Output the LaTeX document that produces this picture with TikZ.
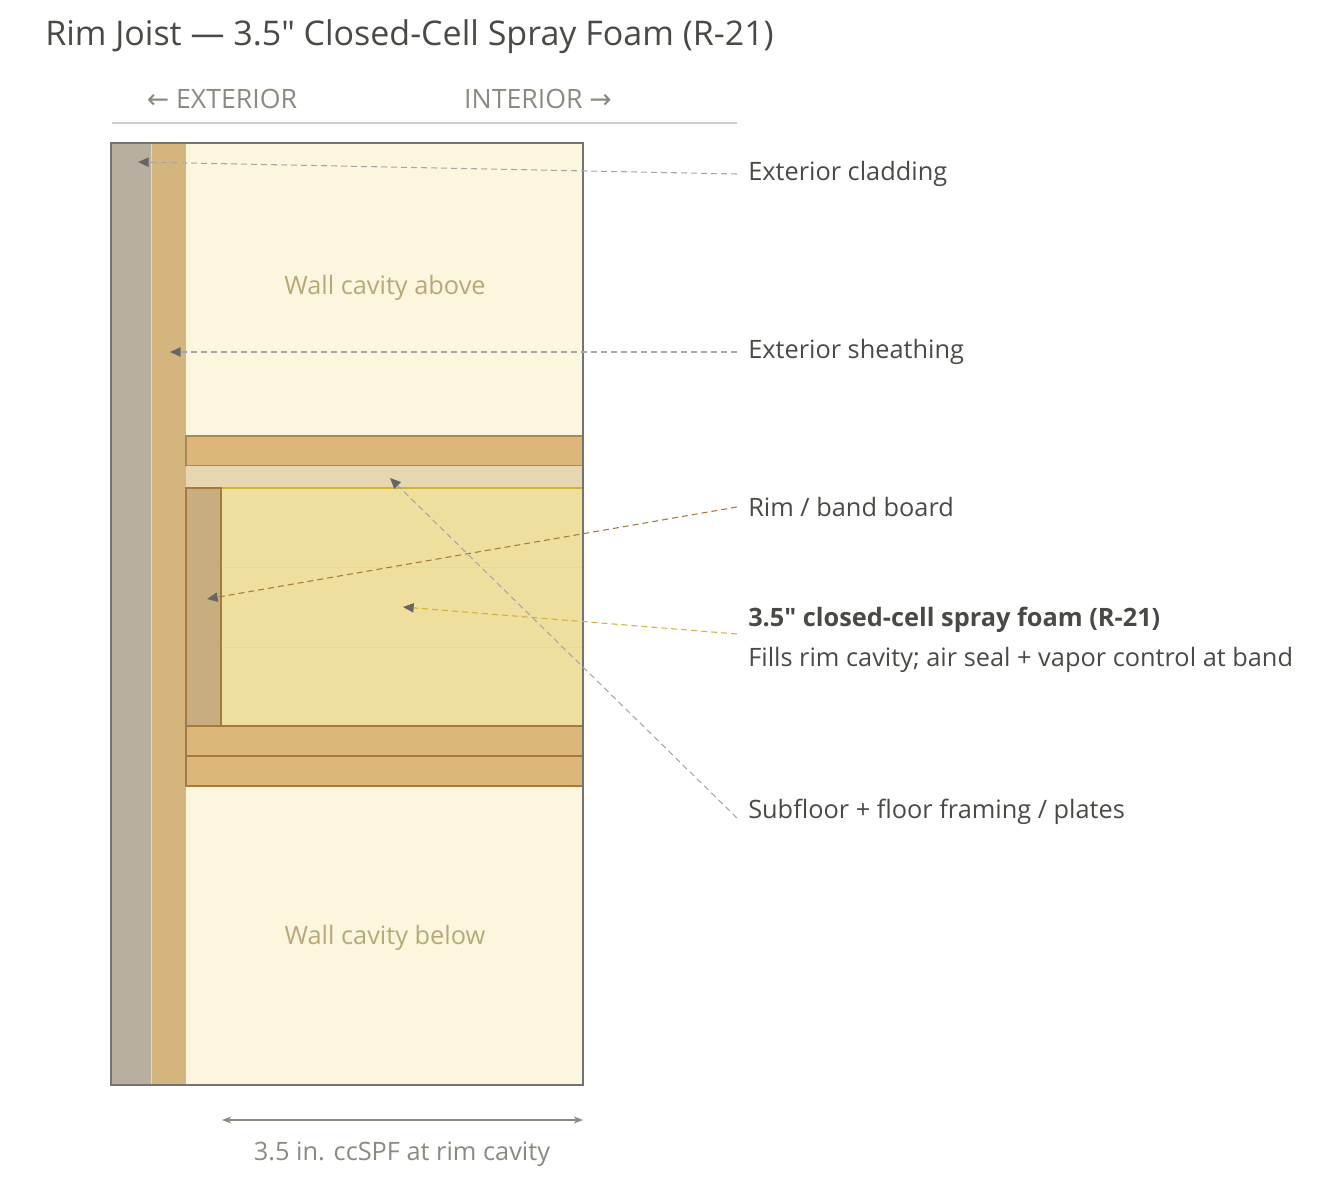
\documentclass[tikz,border=0pt]{standalone}
\usepackage{fontspec}
\setmainfont{Open Sans}
\newfontfamily\arrowfont{DejaVu Sans}
\usetikzlibrary{arrows.meta,positioning}
\definecolor{clad}{HTML}{B8AFA0}
\definecolor{sheath}{HTML}{D4B57E}
\definecolor{cavity}{HTML}{FDF6DF}
\definecolor{plate}{HTML}{DDB77A}
\definecolor{platedk}{HTML}{A98A50}
\definecolor{subfl}{HTML}{E6D7B0}
\definecolor{rim}{HTML}{C8AE7E}
\definecolor{rimdk}{HTML}{A57A3E}
\definecolor{foam}{HTML}{EFDF9E}
\definecolor{foamdk}{HTML}{D4AF3A}
\definecolor{ink}{HTML}{4A4A45}
\definecolor{soft}{HTML}{8A8A80}
\definecolor{cavtext}{HTML}{B8A878}
\begin{document}
\begin{tikzpicture}
  [
    x=0.75pt, y=-0.75pt,
    label/.style =
      {anchor=west, inner sep=0pt, text=ink, font=\fontsize{19}{21}\selectfont},
    leader/.style =
      {dashed, dash pattern=on 4.5pt off 3pt, line width=0.8pt, -{Triangle[length=8pt,width=7pt,color=black!60]}},
    piece/.style =
      {line width=0.9pt}
  ]
\useasboundingbox (0,0) rectangle (1318,1191);

% title and side markers
\node[anchor=west, inner sep=0pt, text=ink, font=\fontsize{25.5}{28}\selectfont] (title) at (45,37) {Rim Joist — 3.5″ Closed-Cell Spray Foam (R-21)};
\node[text=soft, font=\fontsize{20}{22}\selectfont] (ext) at (222,99) {{\arrowfont ←} EXTERIOR};
\node[text=soft, font=\fontsize{20}{22}\selectfont] (int) at (538,99) {INTERIOR {\arrowfont →}};
\draw[black!20, line width=0.8pt] (112,123) -- (737,123);

% wall section
\fill[cavity] (111,143) rectangle (583,1085);
\fill[clad] (111,143) rectangle (151,1085);
\fill[sheath] (151,143) rectangle (186,1085);
\draw[black!15, line width=0.6pt] (151,143) -- (151,1085);
\draw[piece, fill=plate, draw=platedk] (186,436) rectangle (583,466);
\fill[subfl] (186,466) rectangle (583,488);
\draw[piece, fill=foam, draw=foamdk] (221,488) rectangle (583,726);
\draw[foamdk!50, line width=0.6pt] (221,567) -- (583,567) (221,647) -- (583,647);
\draw[piece, fill=rim, draw=rimdk] (186,488) rectangle (221,726);
\draw[piece, fill=plate, draw=rimdk] (186,726) rectangle (583,756);
\draw[piece, fill=plate, draw=rimdk] (186,756) rectangle (583,786);
\draw[black!55, line width=1.2pt] (111,143) rectangle (583,1085);

\node[text=cavtext, font=\fontsize{19}{21}\selectfont] (above) at (385,288) {Wall cavity above};
\node[text=cavtext, font=\fontsize{19}{21}\selectfont] (below) at (385,938) {Wall cavity below};

% targets
\coordinate (tclad) at (138,162);
\coordinate (tsheath) at (170,352);
\coordinate (trim) at (207,599);
\coordinate (tfoam) at (403,607);
\coordinate (tsub) at (390,478);

% labels
\node[label] (lclad) at (748,174) {Exterior cladding};
\node[label] (lsheath) at (748,352) {Exterior sheathing};
\node[label] (lrim) at (748,507) {Rim / band board};
\node[label, font=\fontsize{19}{21}\selectfont\bfseries] (lfoam) at (748,620) {3.5″ closed-cell spray foam (R-21)};
\node[label] (lfoamsub) at (748,660) {Fills rim cavity; air seal + vapor control at band};
\node[label] (lsub) at (748,812) {Subfloor + floor framing / plates};

% leaders
\draw[leader, black!35] (lclad.west) ++(-11,0) -- (tclad);
\draw[leader, black!35] (lsheath.west) ++(-11,0) -- (tsheath);
\draw[leader, rimdk] (lrim.west) ++(-11,0) -- (trim);
\draw[leader, foamdk] (737,634) -- (tfoam);
\draw[leader, black!35] (lsub.west) ++(-11,6) -- (tsub);

% dimension
\coordinate (d1) at (222,1120);
\coordinate (d2) at (583,1120);
\draw[soft, line width=0.8pt, {Stealth[length=7pt]}-{Stealth[length=7pt]}] (d1) -- (d2);
\node[text=soft, font=\fontsize{19}{21}\selectfont] (dim) at (402,1154) {3.5 in. ccSPF at rim cavity};
\end{tikzpicture}
\end{document}
